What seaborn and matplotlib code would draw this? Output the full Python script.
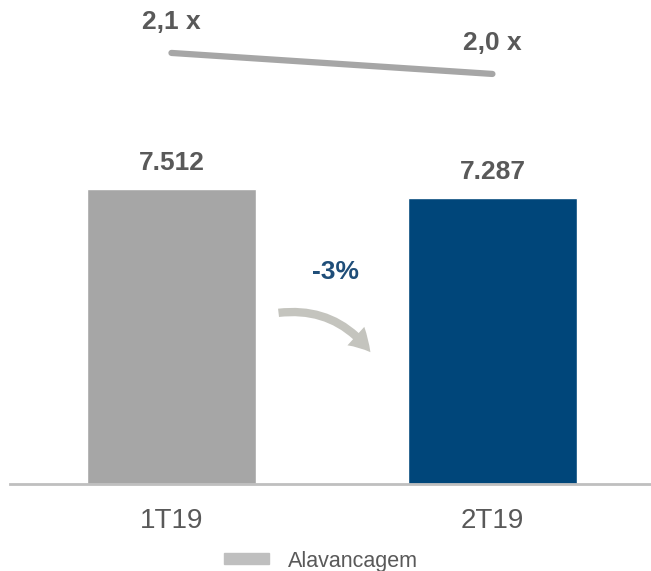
import pandas as pd
import matplotlib.pyplot as plt
import seaborn as sns

# Dane
periods = ["1T19", "2T19"]
divida = [7512, 7287]
divida_labels = ["7.512", "7.287"]
alavancagem = [2.1, 2.0]
alavancagem_labels = ["2,1 x", "2,0 x"]
variacao = "-3%"

bar_colors = ["#A6A6A6", "#00467A"]
line_color = "#A6A6A6"
text_grey = "#595959"

sns.set_theme(style="white")
plt.rcParams["font.family"] = ["Liberation Sans", "DejaVu Sans"]

df = pd.DataFrame({"Periodo": periods, "Divida": divida, "Alavancagem": alavancagem})

fig = plt.figure(figsize=(6.51, 5.71), dpi=100)
ax = fig.add_axes([10 / 651, 1 - 484 / 571, 641 / 651, 484 / 571])

sns.barplot(data=df, x="Periodo", y="Divida", hue="Periodo", palette=bar_colors,
            width=0.526, legend=False, saturation=1, ax=ax)
ax.set_xlim(-0.503, 1.494)
ax.set_ylim(0, 12325)

for i, (v, lab) in enumerate(zip(divida, divida_labels)):
    ax.text(i, v + 650, lab, ha="center", va="center", fontsize=19,
            fontweight="bold", color=text_grey)

ax.text(0.51, 5400, variacao, ha="center", va="center", fontsize=19,
        fontweight="bold", color="#1F4E79")

# seta decorativa
ax.annotate("", xy=(0.625, 3300), xytext=(0.325, 4350),
            arrowprops=dict(arrowstyle="simple,head_length=1.3,head_width=1.5,tail_width=0.5",
                            connectionstyle="arc3,rad=-0.3", color="#C4C4BE", lw=0))

ax.set_xlabel("")
ax.set_ylabel("")
ax.set_yticks([])
ax.tick_params(axis="x", length=0, labelsize=20, labelcolor=text_grey, pad=17)
for s in ["top", "left", "right"]:
    ax.spines[s].set_visible(False)
ax.spines["bottom"].set_color("#BFBFBF")
ax.spines["bottom"].set_linewidth(2)

# Alavancagem (eixo secundário)
ax2 = ax.twinx()
sns.lineplot(x=[0, 1], y=alavancagem, color=line_color, linewidth=4.5,
             solid_capstyle="round", ax=ax2)
ax2.set_ylim(0.048, 2.352)
ax2.set_yticks([])
for s in ax2.spines.values():
    s.set_visible(False)
for i, (v, lab) in enumerate(zip(alavancagem, alavancagem_labels)):
    ax2.text(i, v + 0.148, lab, ha="center", va="center", fontsize=19,
             fontweight="bold", color=text_grey)

handle = plt.Rectangle((0, 0), 1, 1, color="#BFBFBF")
fig.legend([handle], ["Alavancagem"], loc="center", bbox_to_anchor=(0.493, 1 - 561 / 571),
           frameon=False, fontsize=15.5, labelcolor=text_grey,
           handlelength=2.1, handleheight=0.4, handletextpad=0.9)

fig.savefig("out.png", dpi=100)
